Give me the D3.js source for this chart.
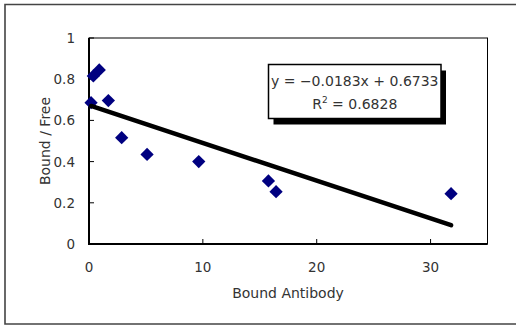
<!DOCTYPE html>
<html>
<head>
<meta charset="utf-8">
<script src="https://cdn.jsdelivr.net/npm/d3@7"></script>
<style>
  body { margin: 0; background: #fff; }
  svg { display: block; }
  text { font-family: "DejaVu Sans", sans-serif; fill: #333; }
</style>
</head>
<body>
<div class="content"></div>
<script>
// bound antibody (x) vs bound/free (y)
var boundAntibody = [0.18, 0.38, 0.9, 1.7, 2.87, 5.1, 9.64, 15.76, 16.43, 31.8];
var boundFree = [0.686, 0.816, 0.845, 0.696, 0.516, 0.435, 0.40, 0.306, 0.254, 0.244];
var xTicks = [0, 10, 20, 30];
var yTicks = [0, 0.2, 0.4, 0.6, 0.8, 1];
var slope = -0.0183, intercept = 0.6733;
var eqLines = ["y = \u22120.0183x + 0.6733", "R2 = 0.6828"];

var W = 516, H = 329;
var svg = d3.select('.content').append('svg').attr('width', W).attr('height', H);

// outer frame (right side runs off the picture)
svg.append('path')
    .attr('d', 'M530,4.5 H5 V324 H530')
    .attr('fill', 'none').attr('stroke', '#444').attr('stroke-width', 1.6);

var x = d3.scaleLinear().domain([0, 35]).range([89, 487.5]);
var y = d3.scaleLinear().domain([0, 1]).range([244, 38]);

// plot area border
svg.append('rect')
    .attr('x', x(0)).attr('y', y(1))
    .attr('width', x(35) - x(0)).attr('height', y(0) - y(1))
    .attr('fill', 'none').attr('stroke', '#000').attr('stroke-width', 1);

// ticks (inside)
svg.selectAll('.xt').data(xTicks.slice(1)).enter().append('line')
    .attr('x1', function(d) {return x(d)}).attr('x2', function(d) {return x(d)})
    .attr('y1', y(0)).attr('y2', y(0) - 5)
    .attr('stroke', '#000');
svg.selectAll('.yt').data(yTicks.slice(1)).enter().append('line')
    .attr('x1', x(0)).attr('x2', x(0) + 5)
    .attr('y1', function(d) {return y(d)}).attr('y2', function(d) {return y(d)})
    .attr('stroke', '#000');

// main axis lines
svg.append('line').attr('x1', x(0)).attr('x2', x(0)).attr('y1', y(1)).attr('y2', y(0) + 1)
    .attr('stroke', '#000').attr('stroke-width', 2);
svg.append('line').attr('x1', x(0) - 1).attr('x2', x(35)).attr('y1', y(0)).attr('y2', y(0))
    .attr('stroke', '#000').attr('stroke-width', 2);

// tick labels
svg.selectAll('.xl').data(xTicks).enter().append('text')
    .attr('x', function(d) {return x(d)}).attr('y', 272)
    .attr('text-anchor', 'middle').style('font-size', '13.5px')
    .text(function(d) {return d});
svg.selectAll('.yl').data(yTicks).enter().append('text')
    .attr('x', 75).attr('y', function(d) {return y(d) + 5})
    .attr('text-anchor', 'end').style('font-size', '13.5px')
    .text(function(d) {return d});

// axis titles
svg.append('text').attr('x', 288).attr('y', 298)
    .attr('text-anchor', 'middle').style('font-size', '14px')
    .text('Bound Antibody');
svg.append('text')
    .attr('transform', 'translate(50,141) rotate(-90)')
    .attr('text-anchor', 'middle').style('font-size', '14px')
    .text('Bound / Free');

// points
var pts = boundAntibody.map(function(v, i) {return [v, boundFree[i]]});
svg.selectAll('.pt').data(pts).enter().append('path')
    .attr('d', d3.symbol(d3.symbolSquare, 88))
    .attr('transform', function(d) {return 'translate(' + x(d[0]) + ',' + y(d[1]) + ') rotate(45)'})
    .attr('fill', '#000080');

// linear trendline
var x0 = d3.min(boundAntibody), x1 = d3.max(boundAntibody);
svg.append('line')
    .attr('x1', x(x0)).attr('y1', y(slope * x0 + intercept))
    .attr('x2', x(x1)).attr('y2', y(slope * x1 + intercept))
    .attr('stroke', '#000').attr('stroke-width', 4.5).attr('stroke-linecap', 'round');

// equation box with shadow
var bx = 268.5, by = 64.5, bw = 172.5, bh = 54;
svg.append('rect').attr('x', bx + 5).attr('y', by + 6).attr('width', bw).attr('height', bh).attr('fill', '#000');
svg.append('rect').attr('x', bx).attr('y', by).attr('width', bw).attr('height', bh)
    .attr('fill', '#fff').attr('stroke', '#000').attr('stroke-width', 1.5);
svg.append('text').attr('x', bx + bw / 2).attr('y', 86)
    .attr('text-anchor', 'middle').style('font-size', '14px')
    .text(eqLines[0]);
var r2 = svg.append('text').attr('x', bx + bw / 2).attr('y', 109)
    .attr('text-anchor', 'middle').style('font-size', '14px');
r2.append('tspan').text('R');
r2.append('tspan').attr('dy', -6).style('font-size', '9px').text('2');
r2.append('tspan').attr('dy', 6).text(' = 0.6828');
</script>
</body>
</html>
